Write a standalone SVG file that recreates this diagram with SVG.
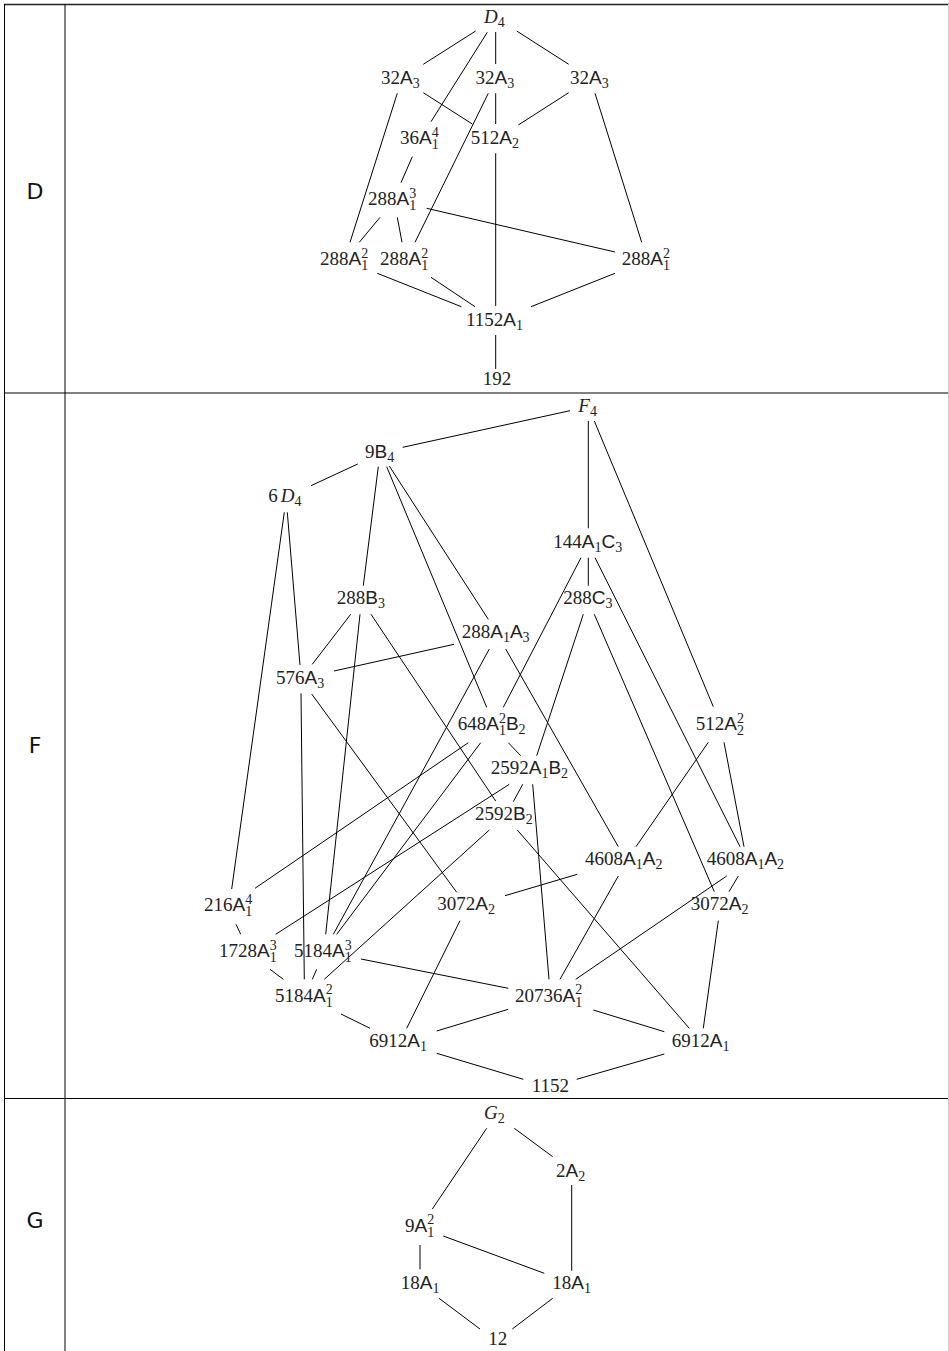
<svg xmlns="http://www.w3.org/2000/svg" width="949" height="1351" viewBox="0 0 949 1351">
<style>
.t{font-family:"Liberation Serif",serif;font-size:19px;fill:#222}
.s{font-family:"Liberation Sans",sans-serif}
.i{font-style:italic}
.c{font-size:14px}
.h{font-family:"DejaVu Sans",sans-serif;font-size:22px;fill:#111}
#connectors line{stroke:#000;stroke-width:1}
.grid line{stroke:#000;stroke-width:1}
</style>
<rect width="949" height="1351" fill="#fff"/>
<g class="grid" id="table">
<line x1="4" y1="4.5" x2="949" y2="4.5" style="stroke-width:1.6;stroke:#222"/>
<line x1="4.5" y1="4" x2="4.5" y2="1351"/>
<line x1="65" y1="4" x2="65" y2="1351"/>
<line x1="4" y1="393" x2="949" y2="393"/>
<line x1="4" y1="1098.5" x2="949" y2="1098.5"/>
<line x1="948.5" y1="4" x2="948.5" y2="1351" style="stroke:#ccc"/>
</g>
<g id="rowlabels">
<text class="h" x="35" y="199" text-anchor="middle">D</text>
<text class="h" x="35" y="753" text-anchor="middle">F</text>
<text class="h" x="35" y="1228" text-anchor="middle">G</text>
</g>
<g id="connectors">
<!-- D -->
<line x1="475.7" y1="31" x2="423.3" y2="64.3"/>
<line x1="487.3" y1="32.3" x2="431" y2="121.7"/>
<line x1="495.7" y1="32" x2="495.7" y2="64"/>
<line x1="516.7" y1="31" x2="568.7" y2="64.3"/>
<line x1="423.3" y1="92.7" x2="472.3" y2="124"/>
<line x1="397.3" y1="93.3" x2="350" y2="242.3"/>
<line x1="488.3" y1="93.3" x2="415" y2="242.3"/>
<line x1="495.7" y1="93.3" x2="495.7" y2="124"/>
<line x1="568.7" y1="92.7" x2="518.3" y2="125"/>
<line x1="595" y1="93.3" x2="641.7" y2="242.3"/>
<line x1="412.3" y1="156.7" x2="401" y2="182.7"/>
<line x1="380" y1="217.3" x2="359.3" y2="242.3"/>
<line x1="397.3" y1="217.3" x2="402" y2="242.3"/>
<line x1="426.7" y1="208.3" x2="615" y2="252"/>
<line x1="495.7" y1="153.3" x2="495.7" y2="306"/>
<line x1="377.3" y1="273.3" x2="461.3" y2="306.7"/>
<line x1="431" y1="277.3" x2="475" y2="306.7"/>
<line x1="615" y1="273.3" x2="531" y2="306.7"/>
<line x1="495.7" y1="335" x2="495.7" y2="369"/>
<!-- F -->
<line x1="570" y1="410.7" x2="402.7" y2="447.3"/>
<line x1="588.3" y1="421" x2="588.3" y2="528.3"/>
<line x1="594.3" y1="421" x2="713.3" y2="706.7"/>
<line x1="357.7" y1="464" x2="311" y2="485.7"/>
<line x1="378.3" y1="466.7" x2="363.3" y2="585.7"/>
<line x1="386.7" y1="466.7" x2="486.7" y2="707.3"/>
<line x1="389.3" y1="466" x2="488.3" y2="619.3"/>
<line x1="284.3" y1="512.3" x2="231.7" y2="889"/>
<line x1="287.3" y1="512.3" x2="300" y2="665"/>
<line x1="581" y1="557.7" x2="503.3" y2="707.3"/>
<line x1="588.3" y1="557.7" x2="588.3" y2="585.7"/>
<line x1="595" y1="557.7" x2="740" y2="846.7"/>
<line x1="583.3" y1="614.3" x2="536.7" y2="755.7"/>
<line x1="594.3" y1="614.3" x2="714.3" y2="891.7"/>
<line x1="350.7" y1="614.3" x2="312.3" y2="664.3"/>
<line x1="360" y1="614.3" x2="325.7" y2="934.3"/>
<line x1="371" y1="614.3" x2="495.7" y2="801"/>
<line x1="454" y1="644.3" x2="334" y2="671"/>
<line x1="489.3" y1="649" x2="333.3" y2="934.3"/>
<line x1="505.7" y1="649" x2="618.3" y2="846.7"/>
<line x1="301" y1="693.3" x2="304.3" y2="979.3"/>
<line x1="311.7" y1="694" x2="456.7" y2="892.3"/>
<line x1="468.3" y1="742.7" x2="255" y2="888.3"/>
<line x1="480.7" y1="742.7" x2="336.7" y2="934.3"/>
<line x1="508.3" y1="742.7" x2="520.7" y2="755.7"/>
<line x1="509.3" y1="784.3" x2="275.7" y2="934.3"/>
<line x1="522.7" y1="784.3" x2="513.3" y2="801.7"/>
<line x1="532.7" y1="784.3" x2="549" y2="979.3"/>
<line x1="489.3" y1="830" x2="324.3" y2="979.3"/>
<line x1="517.3" y1="830" x2="689.3" y2="1028.3"/>
<line x1="708.3" y1="742.3" x2="636" y2="846.7"/>
<line x1="724" y1="742.3" x2="744" y2="846.7"/>
<line x1="577.3" y1="874.3" x2="505" y2="895.7"/>
<line x1="618.3" y1="876" x2="560" y2="979.3"/>
<line x1="726.7" y1="876" x2="575.7" y2="979.3"/>
<line x1="738.3" y1="876" x2="729" y2="891.7"/>
<line x1="718.3" y1="920.7" x2="703.3" y2="1028.3"/>
<line x1="460" y1="920.7" x2="406.7" y2="1028.3"/>
<line x1="236" y1="924.3" x2="240.7" y2="934.3"/>
<line x1="270" y1="969.3" x2="283.3" y2="979.3"/>
<line x1="316.7" y1="969.3" x2="312.3" y2="979.3"/>
<line x1="361" y1="959" x2="508.3" y2="988.3"/>
<line x1="341" y1="1014" x2="370" y2="1028.3"/>
<line x1="508.3" y1="1009.3" x2="436.7" y2="1031"/>
<line x1="593.3" y1="1010" x2="664.3" y2="1031.7"/>
<line x1="436.7" y1="1053.3" x2="523.3" y2="1079.3"/>
<line x1="664.3" y1="1054" x2="576.7" y2="1079.3"/>
<!-- G -->
<line x1="486.7" y1="1128.3" x2="432.3" y2="1209"/>
<line x1="514.3" y1="1128.3" x2="552.7" y2="1156.7"/>
<line x1="571.7" y1="1185" x2="571.7" y2="1270.7"/>
<line x1="420" y1="1245" x2="420" y2="1269.3"/>
<line x1="443.3" y1="1236" x2="544.3" y2="1273.3"/>
<line x1="439" y1="1298.3" x2="480" y2="1329"/>
<line x1="552.7" y1="1298.3" x2="512.3" y2="1329"/>
</g>
<!-- D nodes -->
<g id="d_D4"><text class="t" x="484" y="23"><tspan class="i">D</tspan><tspan class="c" dy="4">4</tspan></text></g>
<g id="d_32A3_l"><text class="t" x="381" y="84">32<tspan class="s">A</tspan><tspan class="c" dy="4">3</tspan></text></g>
<g id="d_32A3_m"><text class="t" x="475.5" y="84">32<tspan class="s">A</tspan><tspan class="c" dy="4">3</tspan></text></g>
<g id="d_32A3_r"><text class="t" x="570" y="84">32<tspan class="s">A</tspan><tspan class="c" dy="4">3</tspan></text></g>
<g id="d_36A1_4"><text class="t" x="400" y="144">36<tspan class="s">A</tspan><tspan class="c" dy="5">1</tspan><tspan class="c" dx="-7" dy="-12.5">4</tspan></text></g>
<g id="d_512A2"><text class="t" x="470.7" y="144">512<tspan class="s">A</tspan><tspan class="c" dy="4">2</tspan></text></g>
<g id="d_288A1_3"><text class="t" x="368" y="205">288<tspan class="s">A</tspan><tspan class="c" dy="5">1</tspan><tspan class="c" dx="-7" dy="-12.5">3</tspan></text></g>
<g id="d_288A1_2_l"><text class="t" x="320" y="265">288<tspan class="s">A</tspan><tspan class="c" dy="5">1</tspan><tspan class="c" dx="-7" dy="-12.5">2</tspan></text></g>
<g id="d_288A1_2_m"><text class="t" x="380" y="265">288<tspan class="s">A</tspan><tspan class="c" dy="5">1</tspan><tspan class="c" dx="-7" dy="-12.5">2</tspan></text></g>
<g id="d_288A1_2_r"><text class="t" x="621.7" y="265">288<tspan class="s">A</tspan><tspan class="c" dy="5">1</tspan><tspan class="c" dx="-7" dy="-12.5">2</tspan></text></g>
<g id="d_1152A1"><text class="t" x="466" y="326">1152<tspan class="s">A</tspan><tspan class="c" dy="4">1</tspan></text></g>
<g id="d_192"><text class="t" x="482.7" y="385">192</text></g>
<!-- F nodes -->
<g id="f_F4"><text class="t" x="578.3" y="412.3"><tspan class="i">F</tspan><tspan class="c" dy="4">4</tspan></text></g>
<g id="f_9B4"><text class="t" x="365" y="457.7">9<tspan class="s">B</tspan><tspan class="c" dy="4">4</tspan></text></g>
<g id="f_6D4"><text class="t" x="268.3" y="502.3">6<tspan class="i" dx="3">D</tspan><tspan class="c" dy="4">4</tspan></text></g>
<g id="f_144A1C3"><text class="t" x="553.3" y="548.3">144<tspan class="s">A</tspan><tspan class="c" dy="4">1</tspan><tspan class="s" dy="-4">C</tspan><tspan class="c" dy="4">3</tspan></text></g>
<g id="f_288B3"><text class="t" x="336.7" y="604.3">288<tspan class="s">B</tspan><tspan class="c" dy="4">3</tspan></text></g>
<g id="f_288C3"><text class="t" x="563.3" y="604.3">288<tspan class="s">C</tspan><tspan class="c" dy="4">3</tspan></text></g>
<g id="f_288A1A3"><text class="t" x="461.7" y="638.3">288<tspan class="s">A</tspan><tspan class="c" dy="4">1</tspan><tspan class="s" dy="-4">A</tspan><tspan class="c" dy="4">3</tspan></text></g>
<g id="f_576A3"><text class="t" x="276" y="684">576<tspan class="s">A</tspan><tspan class="c" dy="4">3</tspan></text></g>
<g id="f_648A1_2B2"><text class="t" x="457.7" y="730">648<tspan class="s">A</tspan><tspan class="c" dy="5">1</tspan><tspan class="c" dx="-7" dy="-12.5">2</tspan><tspan class="s" dy="7.5">B</tspan><tspan class="c" dy="4">2</tspan></text></g>
<g id="f_512A2_2"><text class="t" x="695.7" y="730">512<tspan class="s">A</tspan><tspan class="c" dy="5">2</tspan><tspan class="c" dx="-7" dy="-12.5">2</tspan></text></g>
<g id="f_2592A1B2"><text class="t" x="490.7" y="774">2592<tspan class="s">A</tspan><tspan class="c" dy="4">1</tspan><tspan class="s" dy="-4">B</tspan><tspan class="c" dy="4">2</tspan></text></g>
<g id="f_2592B2"><text class="t" x="475" y="820">2592<tspan class="s">B</tspan><tspan class="c" dy="4">2</tspan></text></g>
<g id="f_4608A1A2_l"><text class="t" x="585" y="865">4608<tspan class="s">A</tspan><tspan class="c" dy="4">1</tspan><tspan class="s" dy="-4">A</tspan><tspan class="c" dy="4">2</tspan></text></g>
<g id="f_4608A1A2_r"><text class="t" x="706.7" y="865">4608<tspan class="s">A</tspan><tspan class="c" dy="4">1</tspan><tspan class="s" dy="-4">A</tspan><tspan class="c" dy="4">2</tspan></text></g>
<g id="f_216A1_4"><text class="t" x="204" y="911">216<tspan class="s">A</tspan><tspan class="c" dy="5">1</tspan><tspan class="c" dx="-7" dy="-12.5">4</tspan></text></g>
<g id="f_3072A2_l"><text class="t" x="437.3" y="910">3072<tspan class="s">A</tspan><tspan class="c" dy="4">2</tspan></text></g>
<g id="f_3072A2_r"><text class="t" x="690.7" y="910">3072<tspan class="s">A</tspan><tspan class="c" dy="4">2</tspan></text></g>
<g id="f_1728A1_3"><text class="t" x="219" y="957.3">1728<tspan class="s">A</tspan><tspan class="c" dy="5">1</tspan><tspan class="c" dx="-7" dy="-12.5">3</tspan></text></g>
<g id="f_5184A1_3"><text class="t" x="294" y="957.3">5184<tspan class="s">A</tspan><tspan class="c" dy="5">1</tspan><tspan class="c" dx="-7" dy="-12.5">3</tspan></text></g>
<g id="f_5184A1_2"><text class="t" x="275" y="1001.7">5184<tspan class="s">A</tspan><tspan class="c" dy="5">1</tspan><tspan class="c" dx="-7" dy="-12.5">2</tspan></text></g>
<g id="f_20736A1_2"><text class="t" x="515" y="1001.7">20736<tspan class="s">A</tspan><tspan class="c" dy="5">1</tspan><tspan class="c" dx="-7" dy="-12.5">2</tspan></text></g>
<g id="f_6912A1_l"><text class="t" x="369.3" y="1047.3">6912<tspan class="s">A</tspan><tspan class="c" dy="4">1</tspan></text></g>
<g id="f_6912A1_r"><text class="t" x="671.7" y="1047.3">6912<tspan class="s">A</tspan><tspan class="c" dy="4">1</tspan></text></g>
<g id="f_1152"><text class="t" x="531.7" y="1092.3">1152</text></g>
<!-- G nodes -->
<g id="g_G2"><text class="t" x="484" y="1119.3"><tspan class="i">G</tspan><tspan class="c" dy="4">2</tspan></text></g>
<g id="g_2A2"><text class="t" x="556" y="1176.7">2<tspan class="s">A</tspan><tspan class="c" dy="4">2</tspan></text></g>
<g id="g_9A1_2"><text class="t" x="405" y="1231.7">9<tspan class="s">A</tspan><tspan class="c" dy="5">1</tspan><tspan class="c" dx="-7" dy="-12.5">2</tspan></text></g>
<g id="g_18A1_l"><text class="t" x="400.7" y="1289.3">18<tspan class="s">A</tspan><tspan class="c" dy="4">1</tspan></text></g>
<g id="g_18A1_r"><text class="t" x="552.3" y="1289.3">18<tspan class="s">A</tspan><tspan class="c" dy="4">1</tspan></text></g>
<g id="g_12"><text class="t" x="488.3" y="1345">12</text></g>
</svg>
